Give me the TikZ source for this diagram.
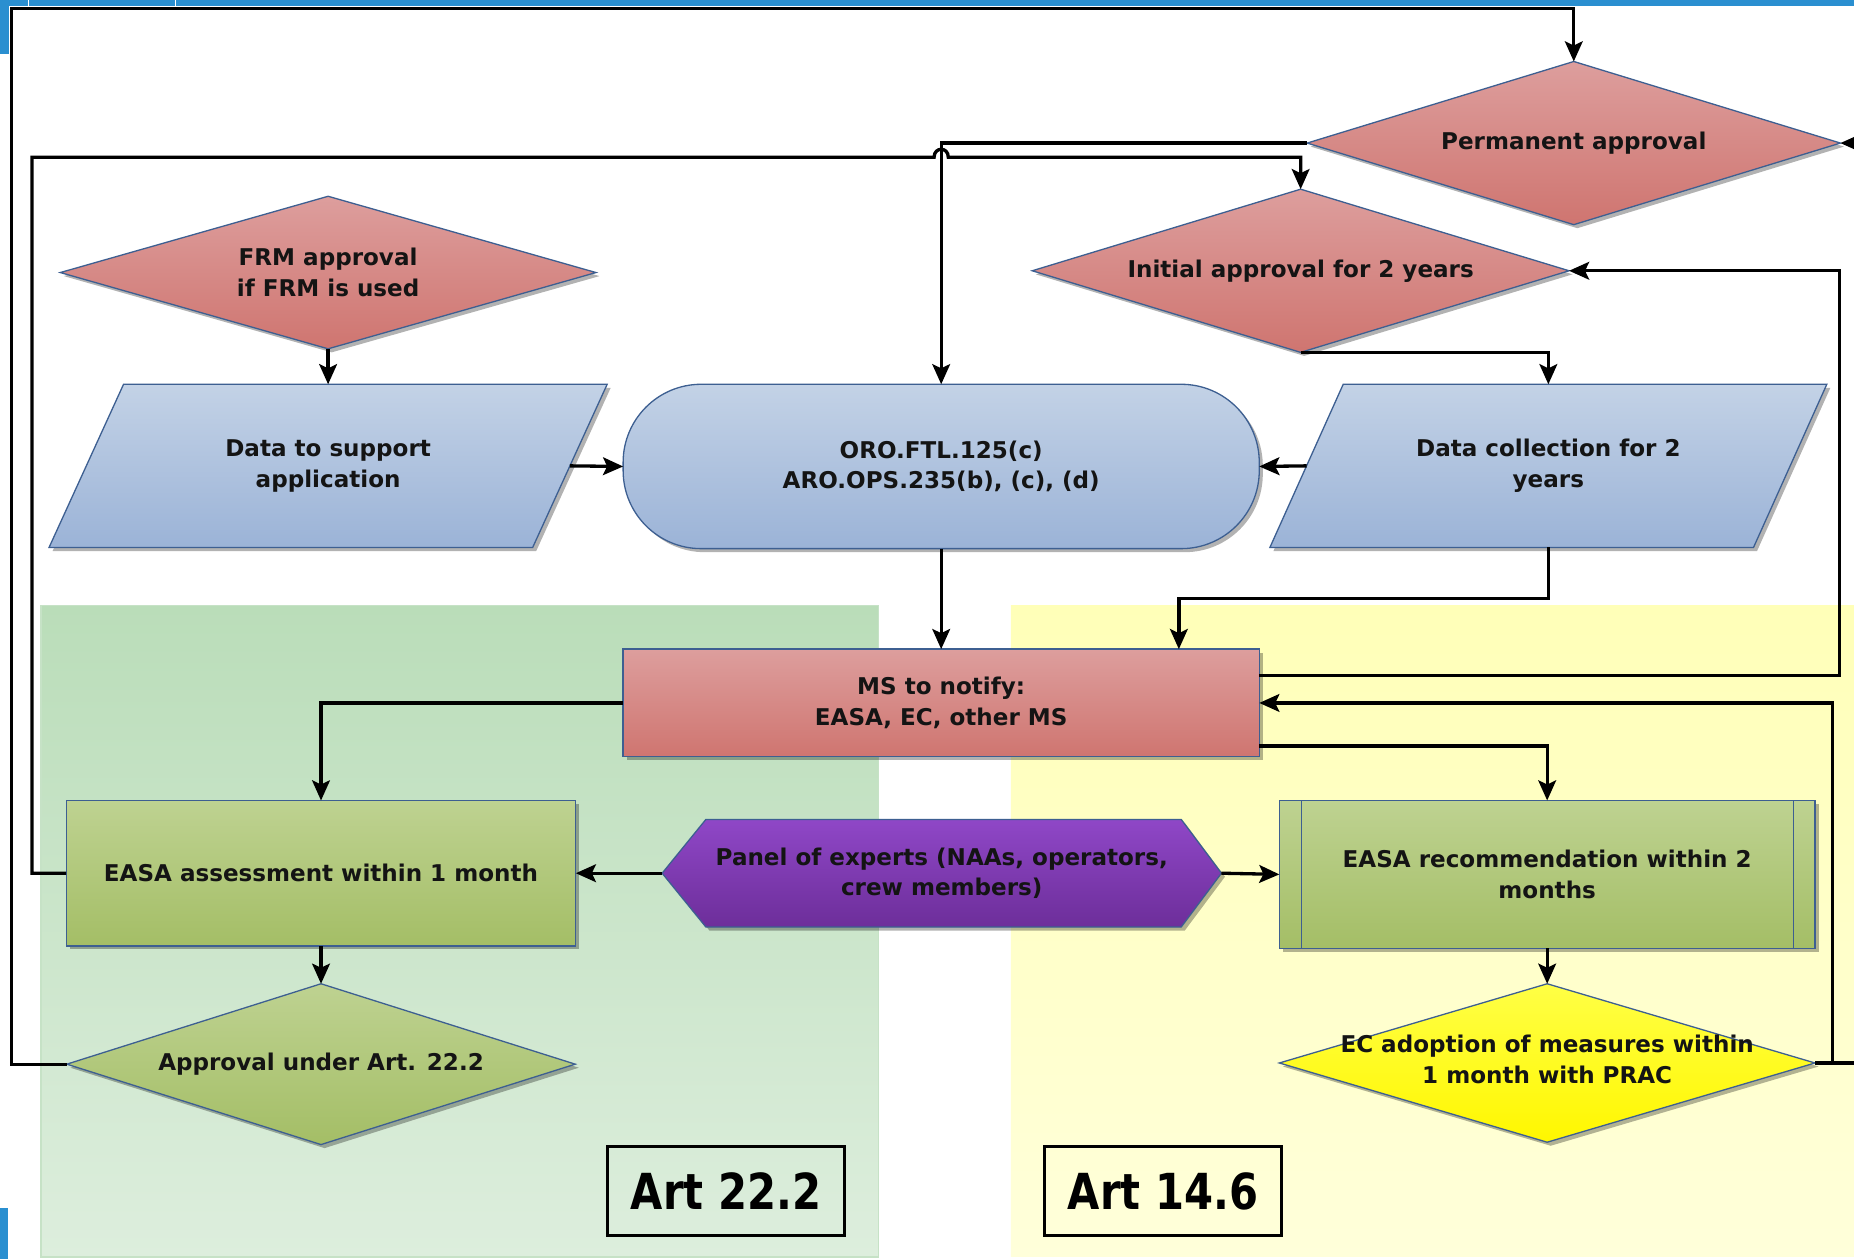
\documentclass[tikz,border=0pt]{standalone}
\usepackage{fontspec}
\setmainfont{DejaVu Sans}
\newfontfamily\artfont{DejaVu Sans}[FakeStretch=0.84]
\usetikzlibrary{shapes.geometric,arrows.meta,shadows,calc}
\definecolor{redT}{HTML}{DD9E9D}
\definecolor{redB}{HTML}{CF7570}
\definecolor{bluT}{HTML}{C3D2E6}
\definecolor{bluB}{HTML}{9BB3D7}
\definecolor{grnT}{HTML}{BED291}
\definecolor{grnB}{HTML}{A4BE66}
\definecolor{purT}{HTML}{8F47C7}
\definecolor{purB}{HTML}{6D2E9A}
\definecolor{ylwT}{HTML}{FFFF45}
\definecolor{ylwB}{HTML}{FFF700}
\definecolor{edge}{HTML}{3D5F91}
\definecolor{grRegT}{HTML}{BADDB9}
\definecolor{grRegB}{HTML}{DDEEDD}
\definecolor{grRegE}{HTML}{C6E2C6}
\definecolor{ylRegT}{HTML}{FFFFB8}
\definecolor{ylRegB}{HTML}{FFFFDA}
\definecolor{barblue}{HTML}{2A8FD0}
\begin{document}
\begin{tikzpicture}[x=1pt,y=-1pt,
  base/.style={inner sep=0pt, outer sep=0pt, line width=1.1pt, draw=edge,
    drop shadow={shadow xshift=3pt, shadow yshift=-3pt, opacity=0.3, fill=black}},
  rednode/.style={base, top color=redT, bottom color=redB},
  bluenode/.style={base, top color=bluT, bottom color=bluB},
  grnnode/.style={base, top color=grnT, bottom color=grnB},
  purnode/.style={base, top color=purT, bottom color=purB},
  ylwnode/.style={base, top color=ylwT, bottom color=ylwB},
  holder/.style={rectangle, inner sep=0pt, outer sep=0pt},
  txt/.style={font=\bfseries\fontsize{19.5}{26}\selectfont, align=center, inner sep=0pt, text=black!92},
  artbox/.style={draw=black, line width=2.5pt, inner sep=0pt, minimum width=200pt, minimum height=75pt,
    font=\artfont\bfseries\fontsize{42}{42}\selectfont},
  link/.style={line width=2.8pt, draw=black, line join=miter,
    -{Stealth[length=17pt,width=15pt,inset=3.5pt]}}
]
\useasboundingbox (0,0) rectangle (1568,1065);
\clip (0,0) rectangle (1568,1065);
\fill[white] (0,0) rectangle (1568,1065);

% background regions
\shade[top color=grRegT, bottom color=grRegB, draw=grRegE, line width=1.5pt] (35,512) rectangle (743,1063);
\shade[top color=ylRegT, bottom color=ylRegB] (855,512) rectangle (1580,1063);

% screenshot frame bits
\fill[barblue] (0,0) rectangle (1568,5);
\fill[barblue] (0,0) rectangle (8,46);
\fill[barblue] (0,1022) rectangle (7,1065);
\draw[white, line width=0.8pt] (24,0) -- (24,5) (148,0) -- (148,5);

% decision diamonds
\node[rednode, diamond, minimum width=451pt, minimum height=138pt] (perm) at (1331,121) {};
\node[txt] (permT) at (perm) {Permanent approval};
\node[rednode, diamond, minimum width=454pt, minimum height=138pt] (init) at (1100,229) {};
\node[txt] (initT) at (init) {Initial approval for 2 years};
\node[rednode, diamond, minimum width=453pt, minimum height=129pt] (frm) at (277.5,230.5) {};
\node[txt] (frmT) at (frm) {FRM approval\\if FRM is used};

% data (parallelograms)
\node[holder, minimum width=409pt, minimum height=138pt] (data) at (277.5,394) {};
\path[bluenode] ($(data.south west)+(-31.5,0)$) -- ($(data.north west)+(31.5,0)$)
  -- ($(data.north east)+(31.5,0)$) -- ($(data.south east)+(-31.5,0)$) -- cycle;
\node[txt] (dataT) at (data) {Data to support\\application};

\node[holder, minimum width=409pt, minimum height=138pt] (coll) at (1309.5,394) {};
\path[bluenode] ($(coll.south west)+(-31,0)$) -- ($(coll.north west)+(31,0)$)
  -- ($(coll.north east)+(31,0)$) -- ($(coll.south east)+(-31,0)$) -- cycle;
\node[txt] (collT) at (coll) {Data collection for 2\\years};

% terminator
\node[bluenode, rectangle, rounded corners=66pt, minimum width=538pt, minimum height=139pt] (oro) at (796,394.5) {};
\node[txt] (oroT) at (oro) {ORO.FTL.125(c)\\ARO.OPS.235(b), (c), (d)};

% MS to notify
\node[rednode, rectangle, minimum width=538pt, minimum height=91pt] (ms) at (796,594.5) {};
\node[txt] (msT) at (ms) {MS to notify:\\EASA, EC, other MS};

% EASA assessment
\node[grnnode, rectangle, minimum width=431pt, minimum height=123pt] (assess) at (271.5,738.5) {};
\node[txt] (assessT) at (assess) {EASA assessment within 1 month};

% Panel (hexagon)
\node[holder, minimum width=473pt, minimum height=91pt] (panel) at (796.5,738.5) {};
\path[purnode] (panel.west) -- ($(panel.north west)+(37,0)$) -- ($(panel.north east)+(-34,0)$)
  -- (panel.east) -- ($(panel.south east)+(-34,0)$) -- ($(panel.south west)+(37,0)$) -- cycle;
\node[txt] (panelT) at (panel) {Panel of experts (NAAs, operators,\\crew members)};

% EASA recommendation (predefined process)
\node[grnnode, rectangle, minimum width=453pt, minimum height=125pt] (rec) at (1308.5,739.5) {};
\draw[edge, line width=1.1pt] ($(rec.north west)+(19,0)$) -- ($(rec.south west)+(19,0)$)
  ($(rec.north east)+(-18,0)$) -- ($(rec.south east)+(-18,0)$);
\node[txt] (recT) at (rec) {EASA recommendation within 2\\months};

% bottom diamonds
\node[grnnode, diamond, minimum width=430pt, minimum height=136pt] (appr) at (271.5,900) {};
\node[txt] (apprT) at (appr) {Approval under Art. 22.2};
\node[ylwnode, diamond, minimum width=453pt, minimum height=134pt] (ec) at (1308.5,899) {};
\node[txt] (ecT) at (1308.5,896) {EC adoption of measures within\\1 month with PRAC};

% article labels
\node[artbox] (art22) at (614,1007.5) {Art 22.2};
\node[artbox] (art14) at (983.5,1007.5) {Art 14.6};

% connectors
\coordinate (jx) at (997,506);
\draw[link] (appr.west) -| (10,7) -| (perm.north);
\draw[link] (assess.west) -| (27,133) -- (790,133) .. controls (790,124) and (802,124) .. (802,133) -| (init.north);
\draw[link] (perm.west) -| (oro.north);
\draw[link] (init.south) -| (coll.north);
\draw[link] (coll.west) -- (oro.west -| oro.east);
\draw[link] (data.east) -- (oro.west);
\draw[link] (frm.south) -- (data.north);
\draw[link] (oro.south) -- (ms.north);
\draw[link] (coll.south) |- (jx) -- (jx |- ms.north);
\draw[link] ([yshift=-22pt]ms.north east) -- (1556,571) |- (init.east);
\draw[link] (ec.east) -- (1550,899) |- (ms.east);
\draw[link] (ec.east) -- (1590,899) |- (perm.east);
\draw[link] ([yshift=9pt]ms.south east) -| (rec.north);
\draw[link] (ms.west) -| (assess.north);
\draw[link] (panel.west) -- (assess.east);
\draw[link] (panel.east) -- (rec.west);
\draw[link] (assess.south) -- (appr.north);
\draw[link] (rec.south) -- (ec.north);
\end{tikzpicture}
\end{document}
